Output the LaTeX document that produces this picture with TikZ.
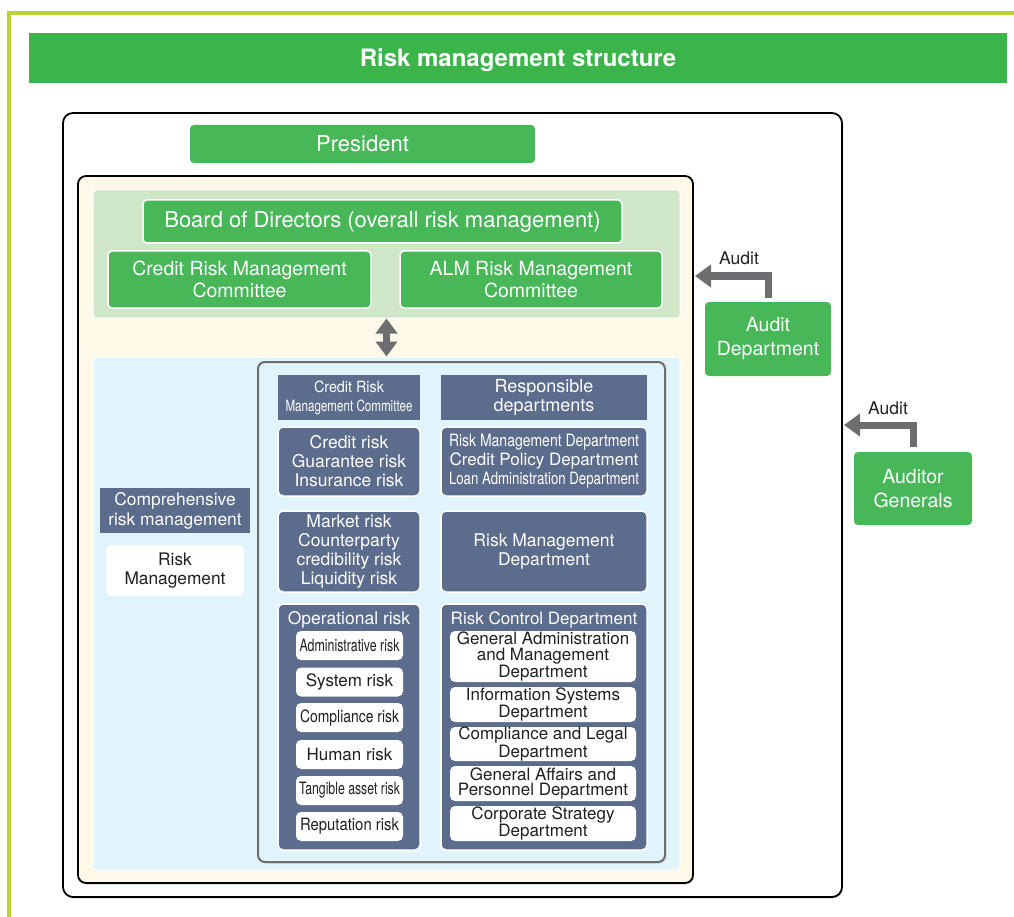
\documentclass[tikz,border=0pt]{standalone}
\usepackage{fontspec}
\setmainfont{TeX Gyre Heros}
\usepackage{graphicx}
\usetikzlibrary{arrows.meta, shadows}

\definecolor{limeline}{RGB}{185,212,48}
\definecolor{titlegreen}{RGB}{59,180,74}
\definecolor{boxgreen}{RGB}{72,183,87}
\definecolor{navy}{RGB}{91,108,140}
\definecolor{areablue}{RGB}{225,243,251}
\definecolor{areagreen}{RGB}{207,231,200}
\definecolor{cream}{RGB}{253,248,232}
\definecolor{arrowgrey}{RGB}{109,110,112}
\definecolor{textdark}{RGB}{35,31,32}

\newcommand{\sizept}[2]{\fontsize{#1}{#2}\selectfont}
\newcommand{\squeezeto}[2]{\resizebox{#1}{\height}{#2}}

\tikzset{
  limeframe/.style={draw=limeline, line width=3.5pt},
  titlebar/.style={fill=titlegreen, text=white, inner sep=0pt, minimum width=978pt, minimum height=50pt, font=\bfseries\sizept{24}{28}},
  outerframe/.style={draw=black, line width=1.8pt, fill=white, rounded corners=10pt, drop shadow={shadow xshift=1pt, shadow yshift=-1.5pt, fill=black!35}},
  creambox/.style={draw=black, line width=1.8pt, fill=cream, rounded corners=8pt, drop shadow={shadow xshift=1pt, shadow yshift=-1.5pt, fill=black!35}},
  areabox/.style={draw=white, line width=1pt, rounded corners=3pt, inner sep=0pt},
  innerframe/.style={draw=arrowgrey, line width=2pt, rounded corners=7pt, drop shadow={shadow xshift=1pt, shadow yshift=-1.5pt, fill=black!30}},
  greenbox/.style={draw=white, line width=1.5pt, fill=boxgreen, rounded corners=4pt, text=white, align=center, inner sep=0pt},
  navyhead/.style={fill=navy, text=white, align=center, inner sep=0pt},
  navybox/.style={draw=white, line width=1.5pt, fill=navy, rounded corners=5pt, text=white, align=center, inner sep=0pt},
  pill/.style={fill=white, rounded corners=5pt, text=textdark, align=center, inner sep=0pt},
  boxtitle/.style={text=white, inner sep=0pt, font=\sizept{17.5}{19}},
  auditlabel/.style={text=textdark, inner sep=0pt, font=\sizept{17.5}{19}},
  auditarrow/.style={draw=arrowgrey, line width=7pt, -{Triangle[length=16pt, width=22pt]}},
  linkarrow/.style={draw=arrowgrey, line width=6.5pt, {Triangle[length=15pt, width=21pt]}-{Triangle[length=15pt, width=21pt]}}
}

\begin{document}
\begin{tikzpicture}[x=1pt, y=-1pt]
  \useasboundingbox (0,0) rectangle (1014,917);

  % frame and heading
  \draw[limeframe] (9,917) -- (9,13) -- (1014,13);
  \node[titlebar] (title) at (518,58) {};
  \node[text=white, inner sep=0pt, font=\bfseries\sizept{24}{28}] (titletext) at (518,60) {Risk management structure};

  % containers
  \node[outerframe, minimum width=779pt, minimum height=784pt] (frame) at (452.5,505) {};
  \node[creambox, minimum width=615pt, minimum height=707pt] (bank) at (385.5,529.5) {};
  \node[areabox, fill=areagreen, minimum width=587pt, minimum height=128pt] (boardarea) at (386.5,254) {};
  \node[areabox, fill=areablue, minimum width=587pt, minimum height=513pt] (riskarea) at (386.5,613.5) {};
  \node[innerframe, fill=areablue, minimum width=407pt, minimum height=500pt] (riskframe) at (461.5,612) {};

  % management
  \node[greenbox, draw=none, minimum width=345pt, minimum height=38pt, font=\sizept{22}{24}] (president) at (362.5,144) {President};
  \node[greenbox, minimum width=479pt, minimum height=43pt, font=\sizept{22}{24}] (board) at (382.5,221.5) {Board of Directors (overall risk management)};
  \node[greenbox, minimum width=263pt, minimum height=57pt, font=\sizept{19.5}{21.5}] (crmc) at (239.5,279.5) {Credit Risk Management\\Committee};
  \node[greenbox, minimum width=262pt, minimum height=57pt, font=\sizept{19.5}{21.5}] (alm) at (531,279.5) {ALM Risk Management\\Committee};

  % audit
  \node[greenbox, draw=none, minimum width=126pt, minimum height=74pt, font=\sizept{19.5}{24}] (auditdept) at (768,339) {Audit\\Department};
  \node[greenbox, draw=none, minimum width=118pt, minimum height=73pt, font=\sizept{19.5}{24}] (auditgen) at (913,488.5) {Auditor\\Generals};
  \coordinate (auditin) at (695,276);
  \coordinate (genin) at (844,425);
  \draw[auditarrow] ([yshift=3pt]auditdept.north) |- (auditin);
  \draw[auditarrow] ([yshift=4pt]auditgen.north) |- (genin);
  \node[auditlabel] (audittext) at (739,258) {Audit};
  \node[auditlabel] (gentext) at (888,408) {Audit};

  \draw[linkarrow] (boardarea.south) -- (riskarea.north);

  % comprehensive risk management
  \node[navyhead, minimum width=150pt, minimum height=45pt, font=\sizept{17.4}{20}] (comphead) at (175,510.5) {Comprehensive\\risk management};
  \node[pill, minimum width=138pt, minimum height=51pt, font=\sizept{17.3}{19}] (riskmgmt) at (175,570.5) {Risk\\Management};

  % column heads
  \node[navyhead, minimum width=142pt, minimum height=45pt, font=\sizept{15.5}{19}] (crmchead) at (349,397.5) {\squeezeto{70pt}{Credit Risk}\\\squeezeto{127pt}{Management Committee}};
  \node[navyhead, minimum width=206pt, minimum height=45pt, font=\sizept{18}{19}] (resphead) at (544,397.5) {Responsible\\departments};

  % risk categories
  \node[navybox, minimum width=142pt, minimum height=69pt, font=\sizept{17.5}{19}] (credit) at (349,461.5) {Credit risk\\Guarantee risk\\Insurance risk};
  \node[navybox, minimum width=142pt, minimum height=81pt, font=\sizept{17.5}{19}] (market) at (349,551.5) {Market risk\\Counterparty\\credibility risk\\Liquidity risk};
  \node[navybox, minimum width=142pt, minimum height=246pt] (oper) at (349,727) {};
  \node[boxtitle] (opertitle) at (349,620) {Operational risk};

  % responsible departments
  \node[navybox, minimum width=206pt, minimum height=69pt, font=\sizept{17}{19}] (resp1) at (544,461.5) {\squeezeto{190pt}{Risk Management Department}\\Credit Policy Department\\\squeezeto{190pt}{Loan Administration Department}};
  \node[navybox, minimum width=206pt, minimum height=81pt, font=\sizept{17.5}{19}] (resp2) at (544,551.5) {Risk Management\\Department};
  \node[navybox, minimum width=206pt, minimum height=246pt] (riskctl) at (544,727) {};
  \node[boxtitle, font=\sizept{17}{19}] (riskctltitle) at (544,620) {Risk Control Department};

  % operational risk items
  \node[pill, minimum width=107pt, minimum height=29pt, font=\sizept{17}{19}] (adminrisk) at (349.5,645.5) {\squeezeto{100pt}{Administrative risk}};
  \node[pill, minimum width=107pt, minimum height=29pt, font=\sizept{17}{19}] (sysrisk) at (349.5,682) {System risk};
  \node[pill, minimum width=107pt, minimum height=29pt, font=\sizept{17}{19}] (comprisk) at (349.5,717.5) {\squeezeto{99pt}{Compliance risk}};
  \node[pill, minimum width=107pt, minimum height=29pt, font=\sizept{17}{19}] (humanrisk) at (349.5,754.5) {Human risk};
  \node[pill, minimum width=107pt, minimum height=29pt, font=\sizept{17}{19}] (assetrisk) at (349.5,790.5) {\squeezeto{101pt}{Tangible asset risk}};
  \node[pill, minimum width=107pt, minimum height=29pt, font=\sizept{17}{19}] (reprisk) at (349.5,826.5) {\squeezeto{99pt}{Reputation risk}};

  % risk control departments
  \node[pill, minimum width=186pt, minimum height=51pt, font=\sizept{17}{15.5}] (genadmin) at (543,656.5) {General Administration\\and Management\\Department};
  \node[pill, minimum width=186pt, minimum height=35pt, font=\sizept{17}{15.5}] (infosys) at (543,704.5) {Information Systems\\Department};
  \node[pill, minimum width=186pt, minimum height=34pt, font=\sizept{17}{15.5}] (legal) at (543,744) {Compliance and Legal\\Department};
  \node[pill, minimum width=186pt, minimum height=35pt, font=\sizept{17}{15.5}] (personnel) at (543,783.5) {General Affairs and\\Personnel Department};
  \node[pill, minimum width=186pt, minimum height=35pt, font=\sizept{17}{15.5}] (strategy) at (543,823.5) {Corporate Strategy\\Department};
\end{tikzpicture}
\end{document}
